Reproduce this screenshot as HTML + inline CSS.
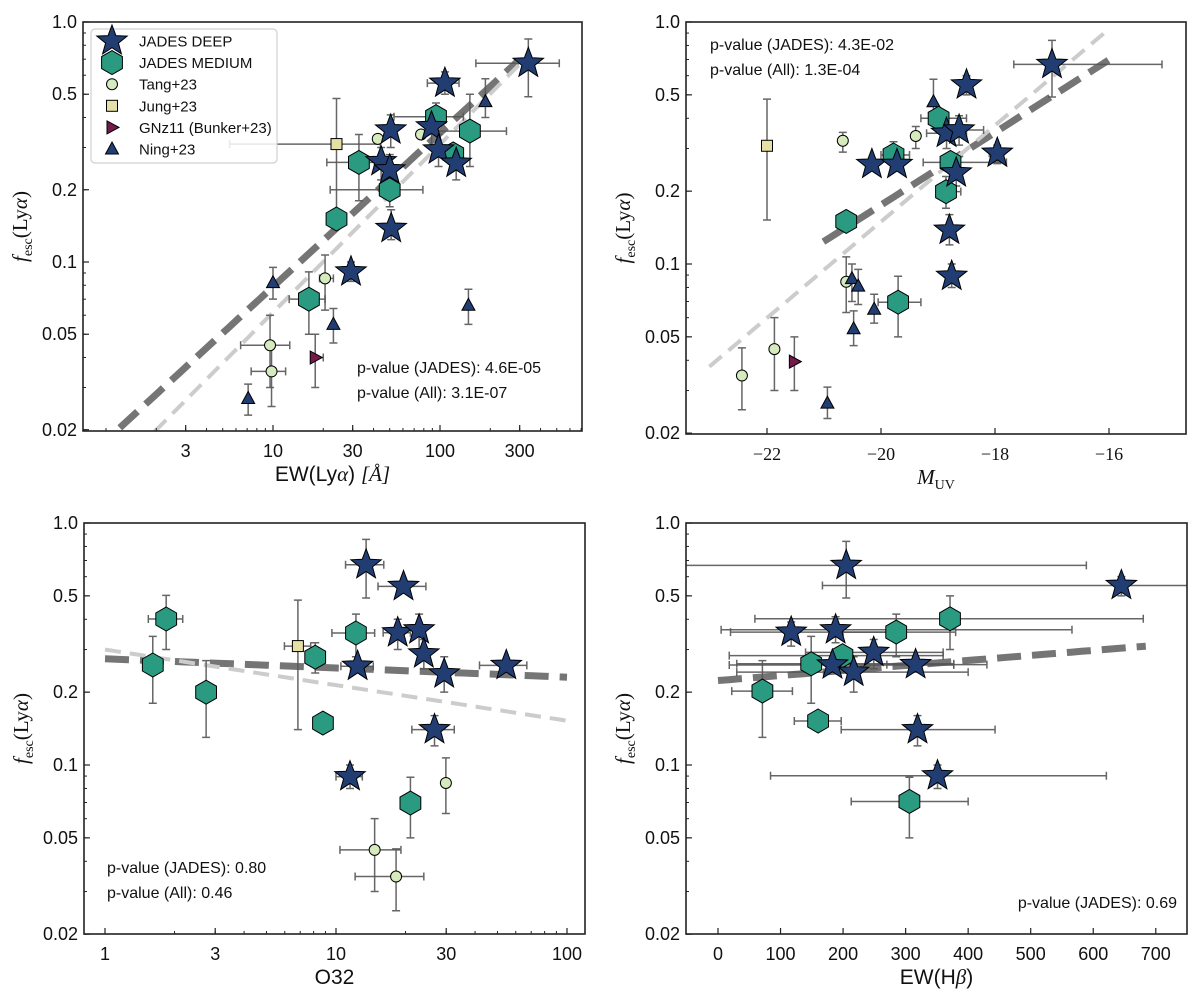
<!DOCTYPE html>
<html><head><meta charset="utf-8"><title>fesc Lya panels</title>
<style>
html,body{margin:0;padding:0;background:#fff;}
svg{display:block;}
text{font-family:"Liberation Sans","DejaVu Sans",sans-serif;fill:#111;}
.serif{font-family:"Liberation Serif","DejaVu Serif",serif;}
</style></head>
<body>
<svg id="fig" width="1200" height="998" viewBox="0 0 1200 998" xmlns="http://www.w3.org/2000/svg"></svg>
<script>
// ===== Panel A: EW(Lya) =====
const aDeepX=[338,107,89,98,125,50.7,44.4,50,51,29.3];
const aDeepY=[0.673,0.556,0.366,0.293,0.258,0.355,0.262,0.242,0.138,0.091];
const aDeepXe=[[164,518],[84,130],null,null,null,null,null,null,null,null];
const aDeepYe=[[0.488,0.849],[0.5,0.62],[0.3,0.43],[0.25,0.34],[0.22,0.3],[0.3,0.41],[0.22,0.3],[0.2,0.28],[0.124,0.165],[0.083,0.1]];
const aMedX=[94.6,151,120,32.7,50,24,16.4];
const aMedY=[0.403,0.351,0.282,0.26,0.2,0.151,0.07];
const aMedXe=[[53,138],[91,250],null,[21,50],[22,79],null,[12.5,20.5]];
const aMedYe=[[0.35,0.46],[0.25,0.5],null,[0.18,0.34],[0.17,0.23],null,[0.05,0.091]];
const aTangX=[42.4,77,20.5,9.6,9.8];
const aTangY=[0.326,0.34,0.0855,0.045,0.035];
const aTangXe=[null,null,[19,23],[6.4,12.6],[7.4,11.9]];
const aTangYe=[null,null,[0.063,0.107],[0.03,0.06],[0.025,0.045]];
const aJungX=[24], aJungY=[0.31], aJungXe=[[5.5,44]], aJungYe=[[0.152,0.48]];
const aGnzX=[17.9], aGnzY=[0.040], aGnzXe=[[17,20]], aGnzYe=[[0.03,0.05]];
const aNingX=[187,10,23,148,7.1];
const aNingY=[0.466,0.082,0.055,0.066,0.027];
const aNingYe=[[0.4,0.58],[0.07,0.095],[0.046,0.064],[0.055,0.077],[0.023,0.031]];
const aFitSlope=[0.641,0.70], aFitInt=[-1.744,-1.910], aFitX0=[1.21,1.96], aFitX1=[288,330];
const aXTicks=[3,10,30,100,300];
// ===== Panel B: MUV =====
const bDeepX=[-17.0,-18.5,-18.85,-18.63,-17.96,-20.16,-19.72,-18.68,-18.80,-18.76];
const bDeepY=[0.668,0.55,0.347,0.358,0.287,0.258,0.258,0.238,0.138,0.089];
const bDeepXe=[[-17.67,-15.07],null,[-19.2,-18.5],[-19.0,-18.2],[-18.1,-17.85],null,null,null,null,null];
const bDeepYe=[[0.49,0.84],[0.5,0.6],[0.3,0.4],[0.31,0.41],[0.26,0.31],null,null,[0.21,0.27],[0.12,0.16],[0.08,0.1]];
const bMedX=[-18.99,-19.78,-18.78,-18.86,-20.61,-19.70];
const bMedY=[0.40,0.282,0.263,0.199,0.15,0.0695];
const bMedXe=[[-19.3,-18.5],[-20.0,-19.5],[-19.26,-17.8],[-18.95,-18.6],null,[-20.05,-19.3]];
const bMedYe=[null,[0.25,0.32],null,[0.17,0.23],null,[0.05,0.089]];
const bTangX=[-20.67,-19.39,-20.61,-21.87,-22.44];
const bTangY=[0.323,0.338,0.0845,0.0445,0.0346];
const bTangYe=[[0.29,0.35],[0.3,0.37],[0.063,0.107],[0.03,0.06],[0.025,0.045]];
const bJungX=[-22.0], bJungY=[0.308], bJungYe=[[0.152,0.48]];
const bGnzX=[-21.52], bGnzY=[0.0395], bGnzYe=[[0.03,0.05]];
const bNingX=[-19.08,-20.51,-20.40,-20.12,-20.48,-20.94];
const bNingY=[0.468,0.087,0.081,0.065,0.054,0.0266];
const bNingYe=[[0.4,0.58],[0.07,0.1],[0.068,0.095],[0.057,0.075],[0.046,0.064],[0.023,0.031]];
const bFitSlope=[0.150,0.199], bFitInt=[2.2435,3.155], bFitX0=[-21.01,-23.01], bFitX1=[-16.01,-16.05];
const bXTicks=[-22,-20,-18,-16];
// ===== Panel C: O32 =====
const cDeepX=[13.5,19.6,18.5,22.9,24.0,12.4,29.4,54.6,26.7,11.5];
const cDeepY=[0.672,0.547,0.352,0.362,0.288,0.256,0.238,0.258,0.140,0.0895];
const cDeepXe=[[11,16.1],[15.2,24.5],[16,21],null,null,[10.5,14.5],null,[41.8,67],[21.3,32.5],[10,13]];
const cDeepYe=[[0.49,0.856],null,[0.3,0.4],[0.3,0.42],[0.25,0.33],null,[0.2,0.28],null,[0.12,0.16],[0.08,0.1]];
const cMedX=[1.84,1.61,2.74,12.2,8.13,8.78,21.0];
const cMedY=[0.401,0.259,0.2,0.351,0.279,0.149,0.0696];
const cMedXe=[[1.54,2.17],null,[2.6,2.9],[9.6,14.7],null,null,[20,22.5]];
const cMedYe=[[0.30,0.502],[0.18,0.34],[0.13,0.27],[0.28,0.42],[0.24,0.32],null,[0.05,0.089]];
const cTangX=[29.9,14.7,18.2], cTangY=[0.0843,0.0446,0.0346];
const cTangXe=[null,[10.4,19.1],[12.1,24]];
const cTangYe=[[0.063,0.107],[0.03,0.06],[0.025,0.045]];
const cJungX=[6.84], cJungY=[0.31], cJungXe=[[5.98,7.77]], cJungYe=[[0.14,0.48]];
const cFitSlope=[-0.038,-0.147], cFitInt=[-0.561,-0.523], cFitX0=[1,1], cFitX1=[100,100];
const cXTicks=[1,3,10,30,100];
// ===== Panel D: EW(Hb) =====
const dDeepX=[205,645,117,188,249,183,217,316,319,351];
const dDeepY=[0.668,0.552,0.354,0.362,0.292,0.259,0.242,0.26,0.14,0.0903];
const dDeepXe=[[-60,589],[167,900],[20,300],[5,566],[140,360],[18,377],[30,400],[270,430],[197,443],[84,621]];
const dDeepYe=[[0.49,0.84],[0.5,0.6],[0.31,0.39],[0.32,0.41],[0.25,0.33],null,[0.2,0.28],null,[0.12,0.16],[0.08,0.1]];
const dMedX=[371,285,199,149,71,160,306];
const dMedY=[0.402,0.354,0.283,0.262,0.202,0.152,0.0707];
const dMedXe=[[59,680],[200,380],[18,360],[30,377],[22,119],[122,197],[213,400]];
const dMedYe=[[0.3,0.5],[0.28,0.42],null,[0.18,0.34],[0.13,0.27],null,[0.05,0.089]];
const dFitSlope=[0.0002076], dFitInt=[-0.651], dFitX0=[0], dFitX1=[684];
const dXTicks=[0,100,200,300,400,500,600,700];
const yTicks=[1.0,0.5,0.2,0.1,0.05,0.02];
const yTickLabels=["1.0","0.5","0.2","0.1","0.05","0.02"];

const NS="http://www.w3.org/2000/svg";
const svg=document.getElementById('fig');
function mk(tag,attrs,parent){const e=document.createElementNS(NS,tag);for(const k in attrs)e.setAttribute(k,attrs[k]);(parent||svg).appendChild(e);return e;}
const C={deep:'#213d72',med:'#2a9a80',tang:'#d6ebbd',jung:'#e4e0a6',gnz:'#741a4b',ning:'#213d72',err:'#555'};

function makeLogY(top,ppd){return v=>top-Math.log10(v)*ppd;}
function starPts(cx,cy,R){let p=[];const r=R*0.42;for(let i=0;i<10;i++){const a=-Math.PI/2+i*Math.PI/5;const rr=i%2?r:R;p.push((cx+rr*Math.cos(a)).toFixed(1)+','+(cy+rr*Math.sin(a)).toFixed(1));}return p.join(' ');}
function hexPts(cx,cy,R){let p=[];for(let i=0;i<6;i++){const a=-Math.PI/2+i*Math.PI/3;p.push((cx+R*Math.cos(a)).toFixed(1)+','+(cy+R*Math.sin(a)).toFixed(1));}return p.join(' ');}
function marker(kind,cx,cy,g){
  let e;
  if(kind==='deep'){e=mk('polygon',{points:starPts(cx,cy,16),fill:C.deep,stroke:'#000','stroke-width':1},g);}
  else if(kind==='med'){e=mk('polygon',{points:hexPts(cx,cy,12),fill:C.med,stroke:'#000','stroke-width':1},g);}
  else if(kind==='tang'){e=mk('circle',{cx:cx,cy:cy,r:5.5,fill:C.tang,stroke:'#000','stroke-width':1},g);}
  else if(kind==='jung'){e=mk('rect',{x:cx-5.5,y:cy-5.5,width:11,height:11,fill:C.jung,stroke:'#000','stroke-width':1},g);}
  else if(kind==='gnz'){e=mk('polygon',{points:`${cx-5},${cy-6.5} ${cx+7},${cy} ${cx-5},${cy+6.5}`,fill:C.gnz,stroke:'#000','stroke-width':1},g);}
  else {e=mk('polygon',{points:`${cx},${cy-7} ${cx+6.5},${cy+5} ${cx-6.5},${cy+5}`,fill:C.ning,stroke:'#000','stroke-width':1},g);}
  return e;
}

function panel(P){
  const g=mk('g',{});
  
  
  const cid='clip-'+P.name;
  const cp=mk('clipPath',{id:cid},g);mk('rect',{x:P.x0,y:P.y0,width:P.x1-P.x0,height:P.y1-P.y0},cp);
  const plot=mk('g',{'clip-path':`url(#${cid})`},g);
  
  
  // fit lines
  P.fits.forEach((f,i)=>{
    const n=40;let pts=[];
    for(let k=0;k<=n;k++){
      const xv=P.xlog?Math.pow(10,Math.log10(f.x0)+(Math.log10(f.x1)-Math.log10(f.x0))*k/n):f.x0+(f.x1-f.x0)*k/n;
      const lx=P.xlog?Math.log10(xv):xv;
      const yv=Math.pow(10,f.b+f.m*lx);
      pts.push(P.sx(xv).toFixed(1)+','+P.sy(yv).toFixed(1));
    }
    const l=mk('polyline',{points:pts.join(' '),fill:'none',stroke:f.dark?'#757575':'#cccccc','stroke-width':f.dark?7:4,'stroke-dasharray':f.dark?'24,11':'16,9'},plot);
    
    
  });
  // error bars
  P.series.forEach(s=>{
    s.x.forEach((xv,i)=>{
      const cx=P.sx(xv),cy=P.sy(s.y[i]);
      const xe=s.xe?s.xe[i]:null,ye=s.ye?s.ye[i]:null;
      if(xe){const a=P.sx(xe[0]),b=P.sx(xe[1]);
        const e=mk('path',{d:`M${a},${cy}H${b}M${a},${cy-4}V${cy+4}M${b},${cy-4}V${cy+4}`,stroke:C.err,'stroke-width':1.5,fill:'none',opacity:0.9},plot);
        
        }
      if(ye){const a=P.sy(ye[0]),b=P.sy(ye[1]);
        const e=mk('path',{d:`M${cx},${a}V${b}M${cx-4},${a}H${cx+4}M${cx-4},${b}H${cx+4}`,stroke:C.err,'stroke-width':1.5,fill:'none',opacity:0.9},plot);
        
        }
    });
  });
  // markers (order: small first, deep last)
  P.series.forEach(s=>{
    s.x.forEach((xv,i)=>{
      const m=marker(s.kind,P.sx(xv),P.sy(s.y[i]),plot);
      
      
    });
  });
  // frame
  const fr=mk('rect',{x:P.x0,y:P.y0,width:P.x1-P.x0,height:P.y1-P.y0,fill:'none',stroke:'#222','stroke-width':1.6},g);
  
  
  // y ticks
  for(let d=-2;d<0;d++)for(let k=1;k<10;k++){const v=k*Math.pow(10,d);if(v<0.02-1e-9)continue;const y=P.sy(v);
    mk('line',{x1:P.x0,x2:P.x0+3,y1:y,y2:y,stroke:'#222','stroke-width':1},g);}
  yTicks.forEach((v,i)=>{const y=P.sy(v);
    mk('line',{x1:P.x0,x2:P.x0+6,y1:y,y2:y,stroke:'#222','stroke-width':1.2},g);
    const t=mk('text',{x:P.x0-6,y:y+6,'text-anchor':'end','font-size':18},g);t.textContent=yTickLabels[i];
    
    });
  // x ticks
  if(P.xlog){
    for(let d=0;d<3;d++)for(let k=1;k<10;k++){const v=k*Math.pow(10,d);const x=P.sx(v);if(x<P.x0||x>P.x1)continue;
      mk('line',{x1:x,x2:x,y1:P.y1,y2:P.y1-3,stroke:'#222','stroke-width':1},g);}
  }
  P.xticks.forEach(v=>{const x=P.sx(v);
    mk('line',{x1:x,x2:x,y1:P.y1,y2:P.y1-6,stroke:'#222','stroke-width':1.2},g);
    const t=mk('text',{x:x,y:P.y1+26,'text-anchor':'middle','font-size':18,class:P.serifTicks?'serif':''},g);
    t.textContent=(v<0?'\u2212'+Math.abs(v):String(v));
    
    });
  // y label
  const yl=mk('text',{transform:`translate(${P.x0-56},${(P.y0+P.y1)/2}) rotate(-90)`,'text-anchor':'middle','font-size':21,class:'serif'},g);
  yl.innerHTML='<tspan font-style="italic">f</tspan><tspan font-size="14" dy="5">esc</tspan><tspan dy="-5">(Ly</tspan><tspan font-style="italic">α</tspan><tspan>)</tspan>';
  
  
  const xl=mk('text',{x:(P.x0+P.x1)/2,y:P.y1+50,'text-anchor':'middle','font-size':21},g);
  xl.innerHTML=P.xlabel;
  
  
  // p-values
  P.pv.forEach((s,i)=>{const t=mk('text',{x:P.pvx,y:P.pvy+i*25,'font-size':16,'text-anchor':P.pvAnchor||'start'},g);t.textContent=s;
    
    });
  return g;
}
function S(kind,x,y,xe,ye){return {kind,x,y,xe,ye};}
function fits(m,b,x0,x1,darkFirst){return m.map((mm,i)=>({m:mm,b:b[i],x0:x0[i],x1:x1[i],dark:i===0}));}

// Panel A
const A={name:'panel-ew-lya',x0:83,x1:582,y0:22,y1:431,xlog:true,
  sx:v=>273+(Math.log10(v)-1)*167, sy:makeLogY(22,240), xticks:aXTicks,
  xlabel:'EW(Ly<tspan class="serif" font-style="italic">α</tspan>) <tspan class="serif" font-style="italic">[Å]</tspan>',
  fits:fits(aFitSlope,aFitInt,aFitX0,aFitX1),
  series:[S('tang',aTangX,aTangY,aTangXe,aTangYe),S('jung',aJungX,aJungY,aJungXe,aJungYe),S('gnz',aGnzX,aGnzY,aGnzXe,aGnzYe),S('ning',aNingX,aNingY,null,aNingYe),S('med',aMedX,aMedY,aMedXe,aMedYe),S('deep',aDeepX,aDeepY,aDeepXe,aDeepYe)],
  pv:['p-value (JADES): 4.6E-05','p-value (All): 3.1E-07'],pvx:357,pvy:373};
// Panel B
const B={name:'panel-muv',x0:686,x1:1186,y0:22,y1:434,xlog:false,serifTicks:true,
  sx:v=>767+(v+22)*57, sy:makeLogY(22,242), xticks:bXTicks,
  xlabel:'<tspan class="serif" font-style="italic">M</tspan><tspan class="serif" font-size="14" dy="5">UV</tspan>',
  fits:fits(bFitSlope,bFitInt,bFitX0,bFitX1),
  series:[S('tang',bTangX,bTangY,null,bTangYe),S('jung',bJungX,bJungY,null,bJungYe),S('gnz',bGnzX,bGnzY,null,bGnzYe),S('ning',bNingX,bNingY,null,bNingYe),S('med',bMedX,bMedY,bMedXe,bMedYe),S('deep',bDeepX,bDeepY,bDeepXe,bDeepYe)],
  pv:['p-value (JADES): 4.3E-02','p-value (All): 1.3E-04'],pvx:710,pvy:50};
// Panel C
const Cp={name:'panel-o32',x0:84,x1:585,y0:523,y1:934,xlog:true,
  sx:v=>105+Math.log10(v)*231, sy:makeLogY(523,242), xticks:cXTicks,
  xlabel:'O32',
  fits:fits(cFitSlope,cFitInt,cFitX0,cFitX1),
  series:[S('tang',cTangX,cTangY,cTangXe,cTangYe),S('jung',cJungX,cJungY,cJungXe,cJungYe),S('med',cMedX,cMedY,cMedXe,cMedYe),S('deep',cDeepX,cDeepY,cDeepXe,cDeepYe)],
  pv:['p-value (JADES): 0.80','p-value (All): 0.46'],pvx:107,pvy:873};
// Panel D
const D={name:'panel-ew-hb',x0:686,x1:1187,y0:523,y1:934,xlog:false,
  sx:v=>718+v*0.6254, sy:makeLogY(523,242), xticks:dXTicks,
  xlabel:'EW(H<tspan class="serif" font-style="italic">β</tspan>)',
  fits:fits(dFitSlope,dFitInt,dFitX0,dFitX1),
  series:[S('med',dMedX,dMedY,dMedXe,dMedYe),S('deep',dDeepX,dDeepY,dDeepXe,dDeepYe)],
  pv:['p-value (JADES): 0.69'],pvx:1177,pvy:908,pvAnchor:'end'};
[A,B,Cp,D].forEach(panel);

// Legend (panel A)
const lg=mk('g',{});


mk('rect',{x:91,y:29,width:186,height:134,rx:4,fill:'#fff','fill-opacity':0.85,stroke:'#d0d0d0','stroke-width':1.2},lg);
const legKinds=['deep','med','tang','jung','gnz','ning'];
const legLabels=['JADES DEEP','JADES MEDIUM','Tang+23','Jung+23','GNz11 (Bunker+23)','Ning+23'];
legKinds.forEach((k,i)=>{
  const y=41+i*21.6;
  const m=marker(k,112,y,lg);
  
  
  const t=mk('text',{x:139,y:y+5.5,'font-size':15},lg);t.textContent=legLabels[i];
  
  
});
</script>
</body></html>
